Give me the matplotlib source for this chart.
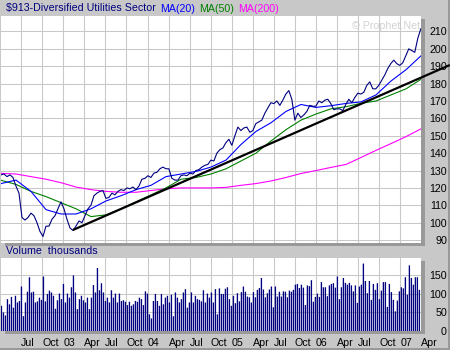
import numpy as np
import pandas as pd
import matplotlib
matplotlib.use('Agg')
import matplotlib.pyplot as plt
from matplotlib.patches import Rectangle

plt.rcParams['font.family'] = ['Liberation Sans', 'DejaVu Sans']
plt.rcParams['font.size'] = 7.7

# weekly-ish closes of the $913 index
close = [127.5, 128, 126.5, 127.5, 126, 121, 117, 103, 101.5, 103,
         105.5, 104, 100, 95, 92, 98, 98, 102, 104, 108,
         112, 108, 102, 97, 95.5, 98, 101, 100, 104, 108,
         110, 115.5, 117, 118, 118.5, 114, 114.5, 117, 116, 118,
         119, 118.5, 120, 119.5, 120.5, 119, 121, 125, 125.5, 127,
         126, 128.5, 129, 131, 132, 131, 131, 125.5, 124.5, 124.5,
         127, 127.5, 127, 128.5, 128, 130, 130.5, 132, 133, 133.5,
         136, 135.5, 140, 142, 143, 146, 148, 144.5, 150, 155,
         153, 154.5, 155, 152, 153, 157, 158, 159, 163, 166,
         169, 168.5, 170, 167.5, 170.5, 174, 176, 171, 159, 163,
         160.5, 162, 164, 167.5, 167, 167, 170, 169, 170.5, 171,
         168.5, 165, 165.5, 165.5, 164.5, 168, 171, 169, 172, 174.5,
         174, 175, 179, 181, 177, 177, 179, 182, 185, 188.7,
         191.5, 193.5, 191.5, 190.5, 192, 196, 200, 199, 198, 206,
         211.5]

# moving averages
ma20 = [122.5, 124.5, 118, 107.5, 105, 105, 108, 112.5, 115.5, 119,
        121.5, 126.5, 128, 129.5, 132, 136, 145, 152.5, 157.5, 164,
        168, 166.3, 167.3, 168.6, 169.5, 173.5, 181.5, 188, 196]
ma50 = [124.4, 122, 118, 115, 111.5, 108, 103.5, 104.5, 108, 112,
        116, 120, 125, 126, 128, 131, 135.5, 140, 147, 153.5,
        159, 162.5, 165.5, 166.7, 168.7, 170, 173.5, 177, 182.5]
ma200 = [128.4, 128, 126.5, 125, 123, 120.5, 119, 118, 117.5, 117.5,
         118.5, 119.5, 120, 120, 120, 120.3, 121.5, 122.5, 124, 126,
         128.3, 130, 131.8, 133.5, 137.5, 141.6, 145.5, 149.5, 154]

# volume, thousands
volume = [68, 50, 42, 86, 72, 92, 63, 95, 77,
          81, 120, 40, 77, 106, 145, 104, 106, 77,
          80, 90, 84, 147, 80, 100, 109, 104,
          95, 60, 83, 101, 86, 127, 77, 101, 90,
          118, 150, 104, 59, 86, 95, 83, 77, 90,
          59, 90, 124, 104, 170, 110, 129, 104, 81,
          90, 77, 110, 90, 101, 77, 101, 81, 83,
          79, 70, 79, 68, 72, 81, 79, 90,
          86, 70, 107, 101, 45, 34, 81, 100, 81,
          68, 100, 72, 90, 95, 77, 98, 40, 104,
          90, 77, 86, 104, 113, 63, 77, 104, 77,
          95, 86, 84, 80, 110, 77, 101, 90,
          104, 77, 113, 45, 115, 100, 100,
          114, 118, 86, 68, 95, 75, 102, 80, 105, 120,
          106, 93, 91, 77, 105, 91, 111, 116, 143, 112,
          91, 102, 112, 120, 64, 120, 93, 106, 93, 107,
          106, 91, 109, 106, 111, 125, 127,
          116, 125, 117, 70, 123, 121, 137, 79, 92, 101,
          92, 132, 118, 118, 94, 123, 127, 129, 117, 147,
          86, 118, 143, 130, 125, 130, 123, 107, 123, 76,
          120, 125, 182, 135, 102, 135, 84, 127, 111, 129,
          86, 109, 132, 132, 65, 127, 105, 84, 53, 82,
          107, 118, 115, 145, 98, 177, 143, 125, 145, 145, 111]

# support line drawn by hand
trend_dates = pd.to_datetime(['2003-02-11', '2007-08-04'])
trend_vals = [95.8, 190.7]

price_ticks = list(range(90, 211, 10))
vol_ticks = [0, 50, 100, 150]

start, end = pd.Timestamp('2002-04-05'), pd.Timestamp('2007-04-01')
close_dates = pd.date_range(start, '2007-03-31', periods=len(close))
ma_dates = pd.date_range(start, end, periods=len(ma20))
vol_dates = pd.date_range('2002-04-07', '2007-03-25', periods=len(volume))

quarters = pd.date_range('2002-07-01', end, freq='QS')
qlabels = ['%02d' % (d.year % 100) if d.month == 1 else d.strftime('%b')
           for d in quarters]

W, H = 450, 350
BG = '#c8c8c8'
SHADOW = '#999999'
GRID = '#c8c8c8'
NAVY = '#000080'


def box(x0, y0, x1, y1):
    # pixel box (top-left origin) -> figure fraction rect
    return [x0 / W, 1 - y1 / H, (x1 - x0) / W, (y1 - y0) / H]


fig = plt.figure(figsize=(W / 100, H / 100), dpi=100, facecolor=BG)

# drop shadows behind both panels
for x0, y0, x1, y1 in [(5, 19, 425, 245.5), (5, 261, 425, 334)]:
    r = box(x0, y0, x1, y1)
    fig.patches.append(Rectangle((r[0], r[1]), r[2], r[3], transform=fig.transFigure,
                                 facecolor=SHADOW, edgecolor='none', zorder=-1))
# outer frame (right / bottom)
fig.patches.append(Rectangle((448 / W, 0), 2 / W, 1, transform=fig.transFigure,
                             facecolor=SHADOW, edgecolor='none', zorder=-1))
fig.patches.append(Rectangle((0, 0), 1, 2 / H, transform=fig.transFigure,
                             facecolor=SHADOW, edgecolor='none', zorder=-1))

ax = fig.add_axes(box(1, 16, 421, 242.5))
axv = fig.add_axes(box(1, 258, 421, 331))

for a in (ax, axv):
    a.set_facecolor('white')
    for s in a.spines.values():
        s.set_visible(False)
    a.set_xlim(start, end)
    a.set_xticks(quarters)
    a.grid(True, color=GRID, linewidth=0.75)
    a.set_axisbelow(True)
    a.yaxis.tick_right()
    a.tick_params(axis='both', length=0, labelsize=7.7)
    a.tick_params(axis='y', pad=18.7)

# price panel
ax.plot(ma_dates, ma200, color='#ff00ff', linewidth=0.8)
ax.plot(ma_dates, ma50, color='#008000', linewidth=0.8)
ax.plot(ma_dates, ma20, color='#0000ff', linewidth=0.8)
ax.plot(close_dates, close, color=NAVY, linewidth=0.8)
ax.plot(trend_dates, trend_vals, color='black', linewidth=1.6, clip_on=False,
        solid_capstyle='butt')
ax.set_ylim(88.6, 218.9)
ax.set_yticks(price_ticks)
ax.set_yticklabels([str(v) for v in price_ticks], ha='right')
ax.set_xticklabels([])
ax.text(0.997, 0.955, '\u00a9 Prophet.Net', transform=ax.transAxes, ha='right',
        va='center', color='#d2d2d2', fontsize=7.7, zorder=1)

# volume panel
bars = axv.bar(vol_dates, volume, width=5.8, color=NAVY, linewidth=0)
for b in bars:
    b.set_snap(False)
axv.set_ylim(0, 197)
axv.set_yticks(vol_ticks)
axv.set_yticklabels([str(v) for v in vol_ticks], ha='right')
axv.set_xticklabels(qlabels, ha='left')
axv.tick_params(axis='x', pad=5)

# header strips
ty = 1 - 8.5 / H
fig.text(6 / W, ty, '$913-Diversified Utilities Sector', color=NAVY, va='center')
fig.text(160 / W, ty, 'MA(20)', color='#0000ff', va='center')
fig.text(199 / W, ty, 'MA(50)', color='#008000', va='center')
fig.text(238 / W, ty, 'MA(200)', color='#ff00ff', va='center')
fig.text(6 / W, 1 - 251 / H, 'Volume  thousands', color=NAVY, va='center')

fig.savefig('out.png', dpi=100, facecolor=BG)
